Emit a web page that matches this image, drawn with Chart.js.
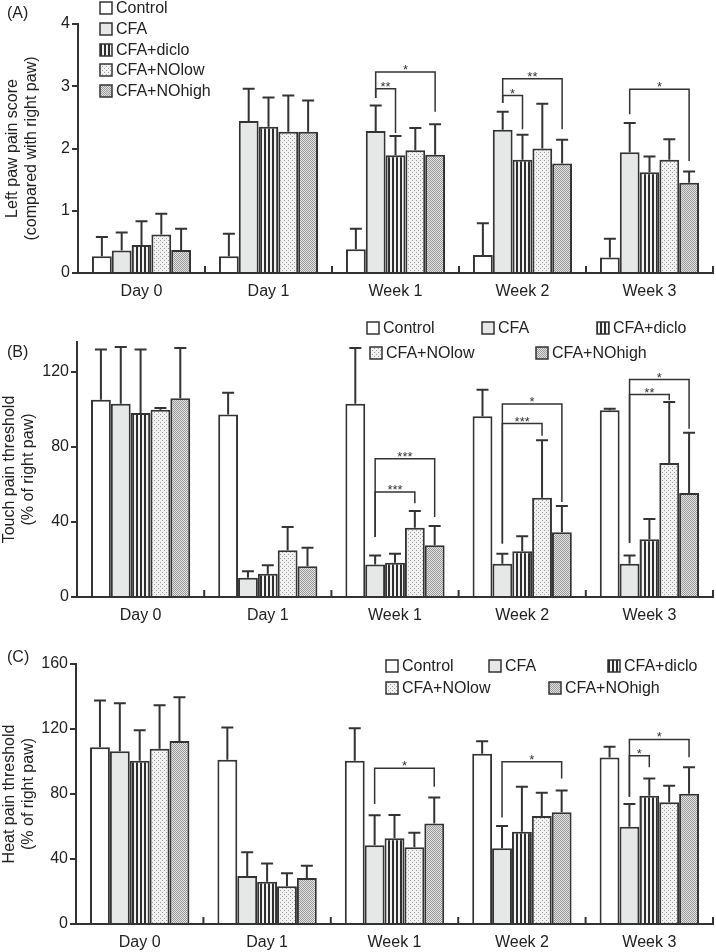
<!DOCTYPE html>
<html>
<head>
<meta charset="utf-8">
<script src="https://cdn.jsdelivr.net/npm/chart.js@4.4.1/dist/chart.umd.min.js"></script>
<style>
  body { margin: 0; background: #fff; }
  canvas { position: absolute; left: 0; }
</style>
</head>
<body>
<canvas id="chartA" width="716" height="310" style="top:0"></canvas>
<canvas id="chartB" width="716" height="320" style="top:310px"></canvas>
<canvas id="chartC" width="716" height="322" style="top:630px"></canvas>
<script>
const groups = ["Day 0", "Day 1", "Week 1", "Week 2", "Week 3"];
const seriesNames = ["Control", "CFA", "CFA+diclo", "CFA+NOlow", "CFA+NOhigh"];

// (A) left paw pain score: bar heights, one row per series
const scoreMean = [
  [0.27, 0.27, 0.38, 0.29, 0.25],
  [0.36, 2.44, 2.28, 2.30, 1.94],
  [0.45, 2.35, 1.89, 1.82, 1.62],
  [0.62, 2.27, 1.97, 2.00, 1.82],
  [0.37, 2.27, 1.90, 1.76, 1.45]
];
// top of each error bar
const scoreErrTop = [
  [0.58, 0.63, 0.71, 0.80, 0.55],
  [0.65, 2.96, 2.69, 2.59, 2.41],
  [0.83, 2.82, 2.20, 2.22, 1.87],
  [0.95, 2.85, 2.33, 2.72, 2.15],
  [0.71, 2.77, 2.39, 2.14, 1.63]
];
const scoreTicks = [0, 1, 2, 3, 4];
// [group, from series, to series, bracket level, left end, right end, stars]
const scoreSig = [
  [2, 1, 2, 2.96, 2.81, 2.25, "**"],
  [2, 1, 4, 3.23, 2.81, 2.59, "*"],
  [3, 1, 2, 2.85, 2.73, 2.31, "*"],
  [3, 1, 4, 3.12, 2.73, 2.31, "**"],
  [4, 1, 4, 2.95, 2.55, 1.80, "*"]
];

// (B) touch pain threshold
const touchMean = [
  [105.2, 97.4, 103.1, 96.4, 99.6],
  [103.1, 10.3, 17.4, 17.8, 17.8],
  [98.1, 12.4, 18.3, 24.4, 30.8],
  [99.9, 24.9, 37.0, 53.0, 71.5],
  [106.0, 16.4, 27.6, 34.5, 55.5]
];
const touchErrTop = [
  [132.0, 109.0, 132.8, 110.6, 100.4],
  [133.3, 13.7, 22.2, 23.1, 22.2],
  [132.0, 16.9, 23.1, 32.4, 41.6],
  [100.8, 37.3, 45.9, 83.6, 104.0],
  [132.8, 26.3, 37.9, 48.5, 87.6]
];
const touchTicks = [0, 40, 80, 120];
const touchSig = [
  [2, 1, 3, 56, 32, 50, "***"],
  [2, 1, 4, 73.8, 32, 42.7, "***"],
  [3, 1, 3, 92.5, 28.5, 86, "***"],
  [3, 1, 4, 103, 28.5, 50.7, "*"],
  [4, 1, 3, 108, 29, 105, "**"],
  [4, 1, 4, 116, 29, 89.8, "*"]
];

// (C) heat pain threshold
const heatMean = [
  [108.7, 101.1, 100.5, 104.8, 102.4],
  [106.3, 29.5, 48.4, 46.6, 59.9],
  [100.5, 26.0, 52.7, 56.8, 79.0],
  [107.9, 23.2, 47.2, 66.5, 74.9],
  [112.6, 28.3, 61.9, 68.7, 80.2]
];
const heatErrTop = [
  [137.6, 121.0, 120.4, 112.4, 109.1],
  [135.8, 44.1, 66.9, 60.3, 73.8],
  [119.2, 37.3, 67.1, 84.5, 89.6],
  [134.6, 31.2, 56.2, 80.8, 85.1],
  [139.5, 35.9, 77.9, 82.1, 96.4]
];
const heatTicks = [0, 40, 80, 120, 160];
const heatSig = [
  [2, 1, 4, 95.8, 73.8, 84.5, "*"],
  [3, 1, 4, 99.9, 65.6, 89.6, "*"],
  [4, 1, 2, 103.6, 78.3, 96.4, "*"],
  [4, 1, 4, 113.6, 78.3, 102.6, "*"]
];

const FONT = "'Liberation Sans', Arial, Helvetica, sans-serif";
const INK = "#333";
Chart.defaults.font.family = FONT;
Chart.defaults.color = "#222";

function pattern(w, h, paint) {
  const c = document.createElement("canvas");
  c.width = w;
  c.height = h;
  const g = c.getContext("2d");
  paint(g);
  return g.createPattern(c, "repeat");
}

const fills = [
  "#ffffff",
  "#e6e7e7",
  pattern(4, 4, g => {
    g.fillStyle = "#f2f2f2"; g.fillRect(0, 0, 4, 4);
    g.fillStyle = "#2e2e2e"; g.fillRect(0, 0, 2, 4);
  }),
  pattern(4, 4, g => {
    g.fillStyle = "#f1f1ef"; g.fillRect(0, 0, 4, 4);
    g.fillStyle = "#a0a0a0"; g.fillRect(0, 0, 1, 1); g.fillRect(2, 2, 1, 1);
  }),
  pattern(2, 2, g => {
    g.fillStyle = "#e2e2e2"; g.fillRect(0, 0, 2, 2);
    g.fillStyle = "#9a9a9a"; g.fillRect(0, 0, 1, 1); g.fillRect(1, 1, 1, 1);
  })
];

function makePanel(id, cfg) {
  // errors, brackets, group ticks, legend and panel letter
  const extras = {
    id: "extras",
    afterDatasetsDraw(chart) {
      const { ctx, scales: { x, y } } = chart;
      ctx.save();
      ctx.strokeStyle = INK;
      ctx.fillStyle = INK;

      // small upward ticks between groups
      const step = x.getPixelForTick(1) - x.getPixelForTick(0);
      ctx.lineWidth = 2;
      for (let i = 0; i < groups.length; i++) {
        const px = x.getPixelForTick(i) + step / 2;
        ctx.beginPath();
        ctx.moveTo(px, y.bottom);
        ctx.lineTo(px, y.bottom - 7);
        ctx.stroke();
      }

      // error bars (upper only)
      cfg.errTop.forEach((tops, s) => {
        const meta = chart.getDatasetMeta(s);
        tops.forEach((top, g) => {
          const bar = meta.data[g];
          const yc = y.getPixelForValue(top);
          ctx.beginPath();
          ctx.moveTo(bar.x, bar.y);
          ctx.lineTo(bar.x, yc);
          ctx.moveTo(bar.x - 6, yc);
          ctx.lineTo(bar.x + 6, yc);
          ctx.stroke();
        });
      });

      // significance brackets
      ctx.lineWidth = 1.5;
      ctx.font = "13px " + FONT;
      ctx.textAlign = "center";
      ctx.textBaseline = "alphabetic";
      cfg.sig.forEach(([g, a, b, level, leftEnd, rightEnd, stars]) => {
        const x1 = chart.getDatasetMeta(a).data[g].x;
        const x2 = chart.getDatasetMeta(b).data[g].x;
        const yl = y.getPixelForValue(level);
        ctx.beginPath();
        ctx.moveTo(x1, y.getPixelForValue(leftEnd));
        ctx.lineTo(x1, yl);
        ctx.lineTo(x2, yl);
        ctx.lineTo(x2, y.getPixelForValue(rightEnd));
        ctx.stroke();
        ctx.fillText(stars, (x1 + x2) / 2, yl + 2);
      });

      // legend
      ctx.font = "16px " + FONT;
      ctx.textAlign = "left";
      ctx.textBaseline = "middle";
      cfg.legend.forEach(([bx, by], s) => {
        ctx.fillStyle = fills[s];
        ctx.fillRect(bx, by - 6, 12, 12);
        ctx.lineWidth = 1.5;
        ctx.strokeStyle = INK;
        ctx.strokeRect(bx, by - 6, 12, 12);
        ctx.fillStyle = "#222";
        ctx.fillText(seriesNames[s], bx + 16, by + 1);
      });

      // panel letter
      ctx.fillText(cfg.letter, cfg.letterPos[0], cfg.letterPos[1]);
      ctx.restore();
    }
  };

  return new Chart(document.getElementById(id), {
    type: "bar",
    data: {
      labels: groups,
      datasets: seriesNames.map((name, i) => ({
        label: name,
        data: cfg.mean[i],
        backgroundColor: fills[i],
        borderColor: INK,
        borderWidth: 2,
        borderSkipped: "start",
        categoryPercentage: 0.78,
        barPercentage: 1
      }))
    },
    options: {
      responsive: false,
      animation: false,
      layout: { padding: { top: cfg.top, right: 3, left: 0, bottom: 0 } },
      plugins: { legend: { display: false }, tooltip: { enabled: false } },
      scales: {
        x: {
          grid: { display: false, drawTicks: false },
          border: { color: INK, width: 2 },
          ticks: { font: { size: 16 }, padding: 9, maxRotation: 0 },
          afterFit: s => { s.height = cfg.xHeight; }
        },
        y: {
          min: 0,
          max: cfg.max,
          afterBuildTicks: s => { s.ticks = cfg.ticks.map(v => ({ value: v })); },
          grid: { drawOnChartArea: false, tickLength: 6, color: INK, lineWidth: 2 },
          border: { color: INK, width: 2 },
          ticks: { font: { size: 16 }, padding: 2 },
          title: {
            display: true,
            text: cfg.title,
            font: { size: 16, lineHeight: 1.2 },
            padding: { top: cfg.titlePad, bottom: 0 }
          },
          afterFit: s => { s.width = cfg.left; }
        }
      }
    },
    plugins: [extras]
  });
}

makePanel("chartA", {
  mean: scoreMean, errTop: scoreErrTop, sig: scoreSig, ticks: scoreTicks, max: 4,
  title: ["Left paw pain score", "(compared with right paw)"], titlePad: 3,
  top: 24, xHeight: 37, left: 78,
  letter: "(A)", letterPos: [7, 14],
  legend: [[100, 8], [100, 29], [100, 50], [100, 70], [100, 91]]
});

makePanel("chartB", {
  mean: touchMean, errTop: touchErrTop, sig: touchSig, ticks: touchTicks, max: 136,
  title: ["Touch pain threshold", "(% of right paw)"], titlePad: 0,
  top: 32, xHeight: 33, left: 77,
  letter: "(B)", letterPos: [7, 43],
  legend: [[367, 18], [482, 18], [597, 18], [370, 43], [536, 43]]
});

makePanel("chartC", {
  mean: heatMean, errTop: heatErrTop, sig: heatSig, ticks: heatTicks, max: 160,
  title: ["Heat pain threshold", "(% of right paw)"], titlePad: 0,
  top: 34, xHeight: 28, left: 76,
  letter: "(C)", letterPos: [7, 28],
  legend: [[386, 36], [489, 36], [608, 36], [386, 58], [549, 58]]
});
</script>
</body>
</html>
